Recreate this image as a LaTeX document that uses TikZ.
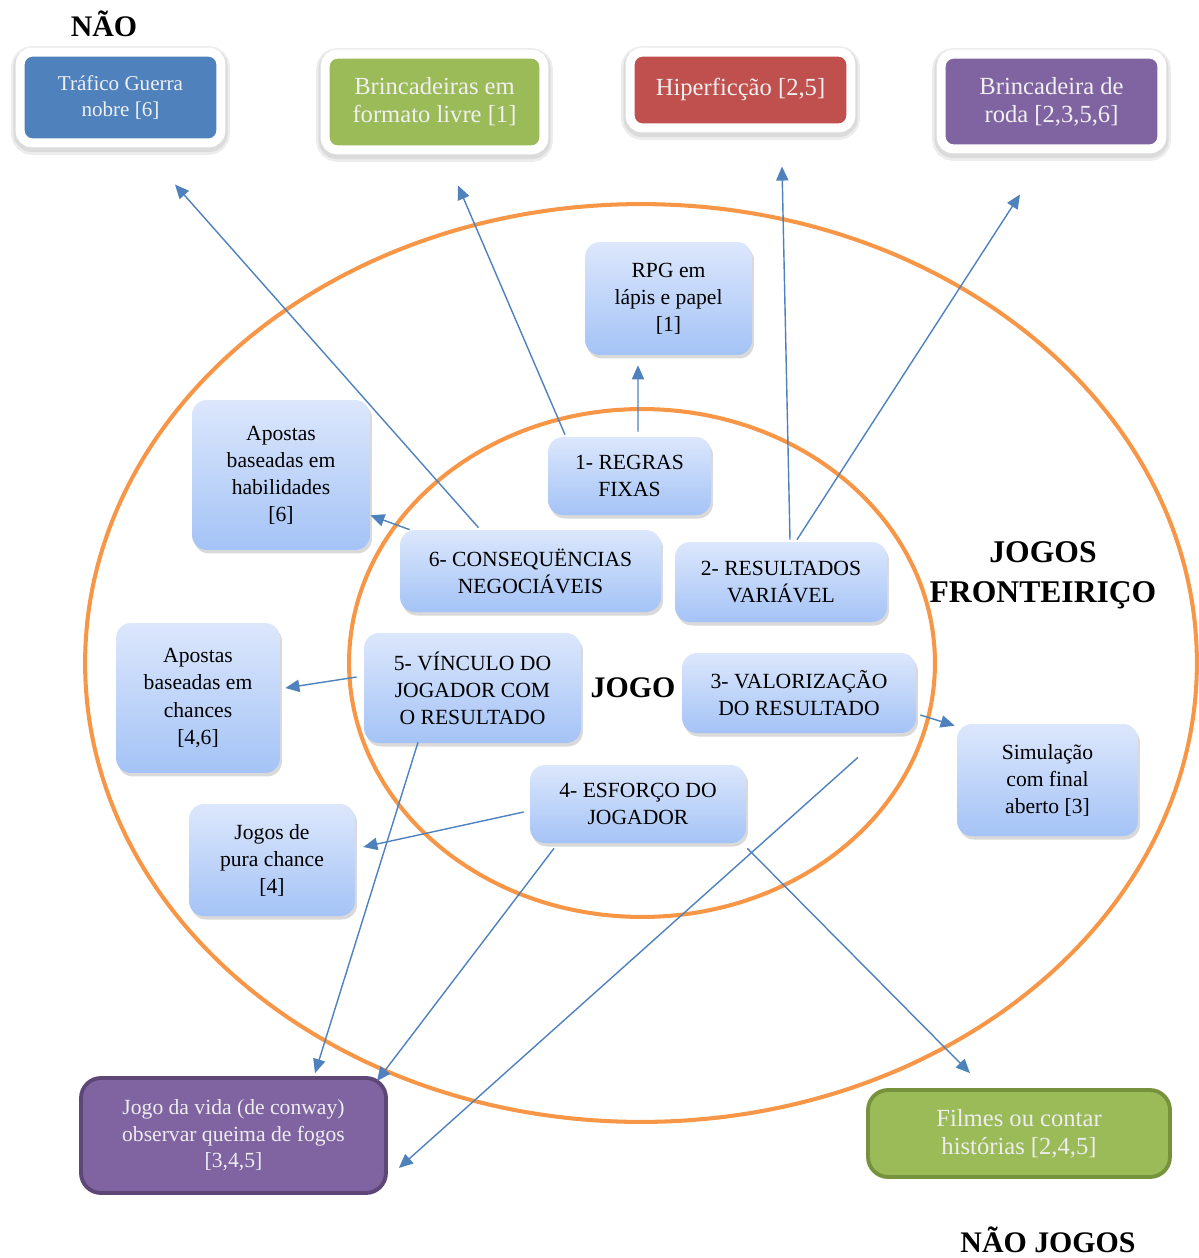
\documentclass[tikz,border=0pt]{standalone}
\usepackage{fontspec}
\setmainfont{Liberation Serif}
\usetikzlibrary{arrows.meta,calc,shadows}
\definecolor{ringOrange}{HTML}{F79646}
\definecolor{arrBlue}{HTML}{4F81BD}
\definecolor{boxBlue}{HTML}{4F81BD}
\definecolor{boxGreen}{HTML}{9BBB59}
\definecolor{boxRed}{HTML}{C0504D}
\definecolor{boxPurple}{HTML}{8064A2}
\definecolor{lineGreen}{HTML}{76923C}
\definecolor{linePurple}{HTML}{5C4776}
\definecolor{gradTop}{HTML}{DCE7FC}
\definecolor{gradBot}{HTML}{A4C3F6}

\begin{document}
\begin{tikzpicture}[
  x=0.02cm, y=-0.02cm,
  ring/.style={draw=ringOrange,line width=2.3pt},
  crit/.style={top color=gradTop,bottom color=gradBot,draw=none,rounded corners=0.3cm,
               drop shadow={shadow xshift=0.04cm,shadow yshift=-0.07cm,opacity=0.3},
               inner sep=0pt,align=center,font=\fontsize{12.3}{15.4}\selectfont},
  topbox/.style={fill=#1,draw=white,line width=0.18cm,rounded corners=0.25cm,
                 preaction={draw=black!7,fill=black!7,line width=0.36cm,
                            transform canvas={yshift=-0.06cm}},
                 preaction={draw=black!14,fill=black!14,line width=0.27cm,
                            transform canvas={yshift=-0.05cm}},
                 inner sep=0pt,align=center,text=white!94!black,font=\fontsize{14}{16}\selectfont},
  endbox/.style 2 args={fill=#1,draw=#2,line width=2.2pt,rounded corners=0.4cm,
                        inner sep=0pt,align=center,text=white!93!black},
  lbl/.style={font=\bfseries\fontsize{17}{22}\selectfont},
  arr/.style={-{Triangle[length=8pt,width=7pt]},arrBlue,line width=0.8pt}
]
  \useasboundingbox (0,0) rectangle (1199,1258);

  % ── Rings ─────────────────────────────────────────────────────────────────
  \draw[ring] (641,663) ellipse [x radius=11.12cm,y radius=9.18cm];
  \draw[ring] (642,663) ellipse [x radius=5.86cm,y radius=5.08cm];

  % ── Outside: NÃO (top row) ────────────────────────────────────────────────
  \node[lbl] (nao) at (104,24) {NÃO};
  \node[topbox=boxBlue,minimum width=4.02cm,minimum height=1.82cm,
        font=\fontsize{12}{15}\selectfont] (traf) at (120.5,97.5) {Tráfico Guerra\\nobre [6]};
  \node[topbox=boxGreen,minimum width=4.38cm,minimum height=1.92cm] (livre) at (434.5,102)
        {Brincadeiras em\\formato livre [1]};
  \node[topbox=boxRed,minimum width=4.42cm,minimum height=1.52cm] (hiper) at (740.5,90)
        {\raisebox{0.14cm}{Hiperficção [2,5]}};
  \node[topbox=boxPurple,minimum width=4.42cm,minimum height=1.9cm] (roda) at (1051.5,101.5)
        {Brincadeira de\\roda [2,3,5,6]};

  % ── Jogos fronteiriço (outer ring) ────────────────────────────────────────
  \node[crit,minimum width=3.34cm,minimum height=2.26cm] (rpg)   at (668.5,298.5) {RPG em\\lápis e papel\\{[1]}};
  \node[crit,minimum width=3.56cm,minimum height=3cm]    (habil) at (281,475)     {Apostas\\baseadas em\\habilidades\\{[6]}};
  \node[crit,minimum width=3.28cm,minimum height=3cm]    (chanc) at (198,698)     {Apostas\\baseadas em\\chances\\{[4,6]}};
  \node[crit,minimum width=3.32cm,minimum height=2.24cm] (pura)  at (272,860)     {Jogos de\\pura chance\\{[4]}};
  \node[crit,minimum width=3.62cm,minimum height=2.24cm] (simul) at (1047.5,780)  {Simulação\\com final\\aberto [3]};
  \node[lbl,align=center,font=\bfseries\fontsize{18}{23}\selectfont] (front) at (1043,575) {JOGOS\\FRONTEIRIÇO};

  % ── Jogo (inner ring) ─────────────────────────────────────────────────────
  \node[crit,minimum width=3.26cm,minimum height=1.56cm] (regras)  at (629.5,476) {1- REGRAS\\FIXAS};
  \node[crit,minimum width=5.22cm,minimum height=1.64cm] (cons)    at (530.5,571) {6- CONSEQUËNCIAS\\NEGOCIÁVEIS};
  \node[crit,minimum width=4.24cm,minimum height=1.6cm]  (result)  at (781,582)   {2- RESULTADOS\\VARIÁVEL};
  \node[crit,minimum width=4.34cm,minimum height=2.2cm]  (vinc)    at (472.5,688) {5- VÍNCULO DO\\JOGADOR COM\\O RESULTADO};
  \node[crit,minimum width=4.68cm,minimum height=1.6cm]  (valor)   at (799,693)   {3- VALORIZAÇÃO\\DO RESULTADO};
  \node[crit,minimum width=4.32cm,minimum height=1.56cm] (esforco) at (638,804)   {4- ESFORÇO DO\\JOGADOR};
  \node[lbl] (jogo) at (633,688) {JOGO};

  % ── Não jogos (bottom) ────────────────────────────────────────────────────
  \node[endbox={boxPurple}{linePurple},minimum width=6.1cm,minimum height=2.3cm,
        font=\fontsize{12.3}{15}\selectfont] (vida) at (233.5,1135.5)
        {Jogo da vida (de conway)\\observar queima de fogos\\{[3,4,5]}};
  \node[endbox={boxGreen}{lineGreen},minimum width=6.04cm,minimum height=1.74cm,
        font=\fontsize{14}{16}\selectfont] (filmes) at (1019,1133.5)
        {Filmes ou contar\\histórias [2,4,5]};
  \node[lbl] (naojogos) at (1048,1240) {NÃO JOGOS};

  % ── Connectors ────────────────────────────────────────────────────────────
  \draw[arr] ($(cons.north)+(-52,-2)$)      -- ($(traf.south)+(54.5,37)$);
  \draw[arr] ($(regras.north)+(-64.5,-2)$)  -- ($(livre.south)+(23.5,31)$);
  \draw[arr] ($(regras.north)+(8.5,-5)$)    -- ($(rpg.south)+(-30.5,10)$);
  \draw[arr] ($(result.north)+(9,-2)$)      -- ($(hiper.south)+(41.5,34)$);
  \draw[arr] ($(result.north)+(16,-2)$)     -- ($(roda.south)+(-31.5,41)$);
  \draw[arr] ($(cons.north west)+(10,0)$)   -- ($(habil.south east)+(0,-35)$);
  \draw[arr] ($(vinc.west)+(-7,-11)$)       -- ($(chanc.east)+(5,-10)$);
  \draw[arr] ($(valor.east)+(4,22)$)        -- ($(simul.north west)+(-2,2)$);
  \draw[arr] ($(esforco.west)+(-6,8)$)      -- ($(pura.east)+(8,-13)$);
  \draw[arr] ($(vinc.south)+(-54.5,-1)$)    -- ($(vida.north)+(81.5,-3)$);
  \draw[arr] ($(esforco.south)+(-84,5)$)    -- ($(vida.north east)+(-11,5)$);
  \draw[arr] ($(valor.south)+(59,24)$)      -- ($(vida.east)+(11,32.5)$);
  \draw[arr] ($(esforco.south east)+(1,5)$) -- ($(filmes.north)+(-49,-15)$);
\end{tikzpicture}
\end{document}
